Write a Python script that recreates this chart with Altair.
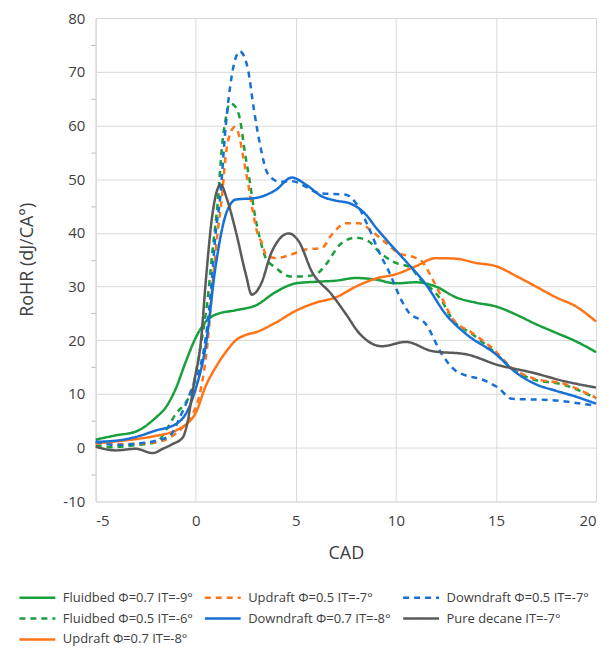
import altair as alt
import pandas as pd

S1 = "Fluidbed Φ=0.7 IT=-9°"
S2 = "Fluidbed Φ=0.5 IT=-6°"
S3 = "Updraft Φ=0.7 IT=-8°"
S4 = "Updraft Φ=0.5 IT=-7°"
S5 = "Downdraft Φ=0.7 IT=-8°"
S6 = "Downdraft Φ=0.5 IT=-7°"
S7 = "Pure decane IT=-7°"

fb07_x = [-5, -4, -3, -2, -1.5, -1, -0.5, 0, 0.5, 1, 2, 3, 4, 5, 6, 7, 8, 9, 10, 11, 12, 13, 14, 15, 16, 17, 18, 19, 20]
fb07_y = [1.5, 2.3, 3.0, 5.6, 7.5, 11, 16, 20.5, 23.5, 24.8, 25.6, 26.5, 29, 30.6, 30.9, 31.1, 31.6, 31.3, 30.6, 30.8, 30.0, 28, 27, 26.3, 24.8, 23, 21.4, 19.8, 17.8]

fb05_x = [-5, -4.2, -3.2, -2, -1.3, -1, -0.5, -0.2, 0.2, 0.6, 0.85, 1.1, 1.3, 1.5, 1.7, 1.9, 2.2, 2.45, 2.7, 2.95, 3.2, 3.5, 4.0, 4.7, 5.3, 6.0, 6.5, 7.2, 8.0, 8.65, 9.15, 10.0, 10.7, 11.3, 11.8, 12.3, 12.8, 13.8, 14.8, 15.8, 16.8, 18.4, 20]
fb05_y = [0.4, 0.1, 0.4, 1.0, 4.4, 6.3, 8.4, 10.6, 18, 27.9, 37.2, 45.8, 55.7, 61.3, 64.1, 63.8, 61.3, 55.1, 49.5, 43.4, 39, 35.3, 33.5, 31.9, 31.9, 32.3, 34.1, 37.8, 39.1, 38.4, 36.5, 34.4, 33.6, 31.0, 29.5, 27.3, 24, 21.2, 18.2, 14.7, 12.8, 11.7, 9.2]

up07_x = [-5, -4, -3, -2, -1, -0.5, 0, 0.5, 1, 1.5, 2, 2.5, 3, 4, 5, 6, 7, 8, 9, 10, 11, 12, 13, 14, 15, 16, 17, 18, 19, 20]
up07_y = [0.8, 1.2, 1.6, 2.2, 3.2, 4.3, 6.5, 11.5, 15, 17.8, 20, 21, 21.5, 23.3, 25.5, 27, 28, 30, 31.5, 32.3, 33.8, 35.3, 35.2, 34.4, 33.8, 32, 30, 28, 26.3, 23.5]

up05_x = [-5, -3.65, -2, -1.3, -0.65, -0.15, 0.2, 0.6, 0.85, 1.1, 1.3, 1.5, 1.75, 1.95, 2.2, 2.35, 2.6, 2.85, 3.1, 3.3, 3.5, 4.0, 4.8, 5.5, 6.3, 6.8, 7.5, 8.15, 8.8, 9.5, 10.15, 10.8, 11.3, 11.8, 12.3, 12.8, 13.8, 14.8, 15.8, 16.8, 18.4, 20]
up05_y = [0.8, 0.7, 1.0, 1.9, 3.8, 6.3, 10, 19.9, 31, 40.3, 46.4, 54.5, 58.8, 59.7, 57.6, 54.5, 49.5, 44, 39.7, 38.2, 36, 35.3, 36, 36.9, 37.2, 39.7, 41.8, 41.8, 40.3, 38.1, 36.2, 35.6, 34.7, 31.6, 27.9, 24.2, 21.4, 18.6, 14.9, 13.0, 11.9, 9.3]

dd07_x = [-5, -4, -3, -2, -1, -0.5, 0, 0.5, 1, 1.5, 2, 3, 4, 4.8, 5.5, 6.3, 7, 7.7, 8.5, 9, 9.6, 10.5, 11.5, 12.5, 13.5, 15, 16, 17, 18, 19, 20]
dd07_y = [1.1, 1.3, 2.0, 3.2, 4.4, 6.3, 11, 19, 34, 43.4, 46.2, 46.5, 48, 50.3, 49, 46.8, 46, 45.5, 43.4, 41, 38.4, 34.7, 30.4, 24.8, 21.2, 17.4, 14, 11.8, 10.6, 9.5, 8.2]

dd05_x = [-5, -4, -3, -2, -1.3, -0.8, -0.3, 0.5, 0.8, 1.0, 1.2, 1.5, 1.8, 2.2, 2.6, 2.9, 3.25, 3.6, 4.2, 4.8, 6.2, 7.5, 8.05, 8.65, 9.15, 9.65, 10.3, 10.6, 11.5, 12.3, 13, 14.5, 15.1, 15.8, 17.6, 18.9, 20]
dd05_y = [1.1, 0.5, 0.7, 1.3, 2.2, 5.6, 10, 20.5, 31, 40.3, 45.8, 60, 69.3, 73.8, 70.6, 63.1, 55.7, 51, 49.5, 49.6, 47.4, 47.1, 45.3, 40.9, 36.5, 32.8, 27.3, 25.4, 23, 17.4, 14.3, 12.4, 11.2, 9.1, 8.9, 8.4, 7.8]

dec_x = [-5, -4, -3, -2.15, -1.65, -1.15, -0.65, -0.4, -0.23, -0.07, 0.26, 0.5, 0.83, 1.25, 1.55, 2.0, 2.5, 2.8, 3.25, 3.8, 4.65, 5.15, 5.8, 6.8, 7.5, 8.15, 9.3, 10.5, 11.8, 13.5, 15.1, 16.8, 18.4, 20]
dec_y = [0.2, -0.5, -0.2, -1.0, -0.2, 0.7, 1.9, 5, 8.7, 12.4, 19.9, 31, 43.4, 49, 46.4, 40.3, 32.3, 28.5, 30.4, 36.5, 39.9, 38.4, 32.8, 28.5, 24.9, 21.4, 18.9, 19.7, 18, 17.4, 15.4, 14, 12.4, 11.2]

series = [
    (S1, fb07_x, fb07_y),
    (S2, fb05_x, fb05_y),
    (S3, up07_x, up07_y),
    (S4, up05_x, up05_y),
    (S5, dd07_x, dd07_y),
    (S6, dd05_x, dd05_y),
    (S7, dec_x, dec_y),
]

rows = []
for i, (name, xs, ys) in enumerate(series):
    for x, y in zip(xs, ys):
        rows.append({"series": name, "CAD": x, "RoHR": y, "ord": i})
df = pd.DataFrame(rows)

legend_order = [S1, S4, S6, S2, S5, S7, S3]
green = "#18A03C"
orange = "#FF7418"
blue = "#1670D6"
gray = "#5a5a5a"
color_map = {S1: green, S2: green, S3: orange, S4: orange, S5: blue, S6: blue, S7: gray}
dash_map = {S1: [1, 0], S2: [6, 5], S3: [1, 0], S4: [6, 5], S5: [1, 0], S6: [6, 5], S7: [1, 0]}
width_map = {S1: 2.5, S2: 2.5, S3: 2.5, S4: 2.5, S5: 2.5, S6: 2.5, S7: 1.2}

FONT = "Open Sans"

legend = alt.Legend(
    title=None,
    orient="none",
    legendX=-69,
    legendY=571,
    columns=3,
    direction="horizontal",
    symbolType="M-2,0L2,0",
    symbolSize=324,
    labelFont=FONT,
    labelFontSize=13,
    labelColor="#404040",
    labelOffset=15,
    columnPadding=6,
    rowPadding=3,
    labelLimit=300,
)

chart = alt.Chart(df).mark_line(interpolate="monotone").encode(
    x=alt.X("CAD:Q",
            scale=alt.Scale(domain=[-5, 20], nice=False, zero=False),
            axis=alt.Axis(values=[-5, 0, 5, 10, 15, 20], title="CAD",
                          labelExpr="'' + datum.value",
                          titleFont=FONT, titleFontSize=18, titleFontWeight="normal",
                          titleColor="#404040", titleX=251, titleY=52, titleBaseline="middle",
                          labelFont=FONT, labelFontSize=15, labelColor="#404040",
                          labelPadding=12, ticks=False, domain=False,
                          grid=True, gridColor="#d9d9d9", gridWidth=1)),
    y=alt.Y("RoHR:Q",
            scale=alt.Scale(domain=[-10, 80], nice=False, zero=False),
            axis=alt.Axis(values=list(range(-10, 81, 5)), title="RoHR (dJ/CA°)",
                          labelExpr="datum.value % 10 == 0 ? '' + datum.value : ''",
                          titleFont=FONT, titleFontSize=18, titleFontWeight="normal",
                          titleColor="#404040", titleX=-68, titleY=242, titleBaseline="middle",
                          labelFont=FONT, labelFontSize=15, labelColor="#404040",
                          labelPadding=6, tickSize=5, tickColor="#bfbfbf",
                          tickOpacity={"condition": {"test": "datum.value % 10 == 0", "value": 0}, "value": 1},
                          gridOpacity={"condition": {"test": "datum.value % 10 == 0", "value": 1}, "value": 0},
                          domain=True, domainColor="#d9d9d9",
                          grid=True, gridColor="#d9d9d9", gridWidth=1)),
    color=alt.Color("series:N",
                    scale=alt.Scale(domain=legend_order, range=[color_map[s] for s in legend_order]),
                    legend=legend),
    strokeDash=alt.StrokeDash("series:N",
                              scale=alt.Scale(domain=legend_order, range=[dash_map[s] for s in legend_order]),
                              legend=legend),
    strokeWidth=alt.StrokeWidth("series:N",
                                scale=alt.Scale(domain=legend_order, range=[width_map[s] for s in legend_order]),
                                legend=legend),
    order="ord:Q",
).properties(
    width=502,
    height=485,
    autosize=alt.AutoSizeParams(type="none"),
    padding={"left": 88, "top": 9, "right": 6, "bottom": 148},
).configure_view(stroke=None).configure(background="white")

chart.save("out.html", embed_options={"renderer": "svg", "actions": False})
